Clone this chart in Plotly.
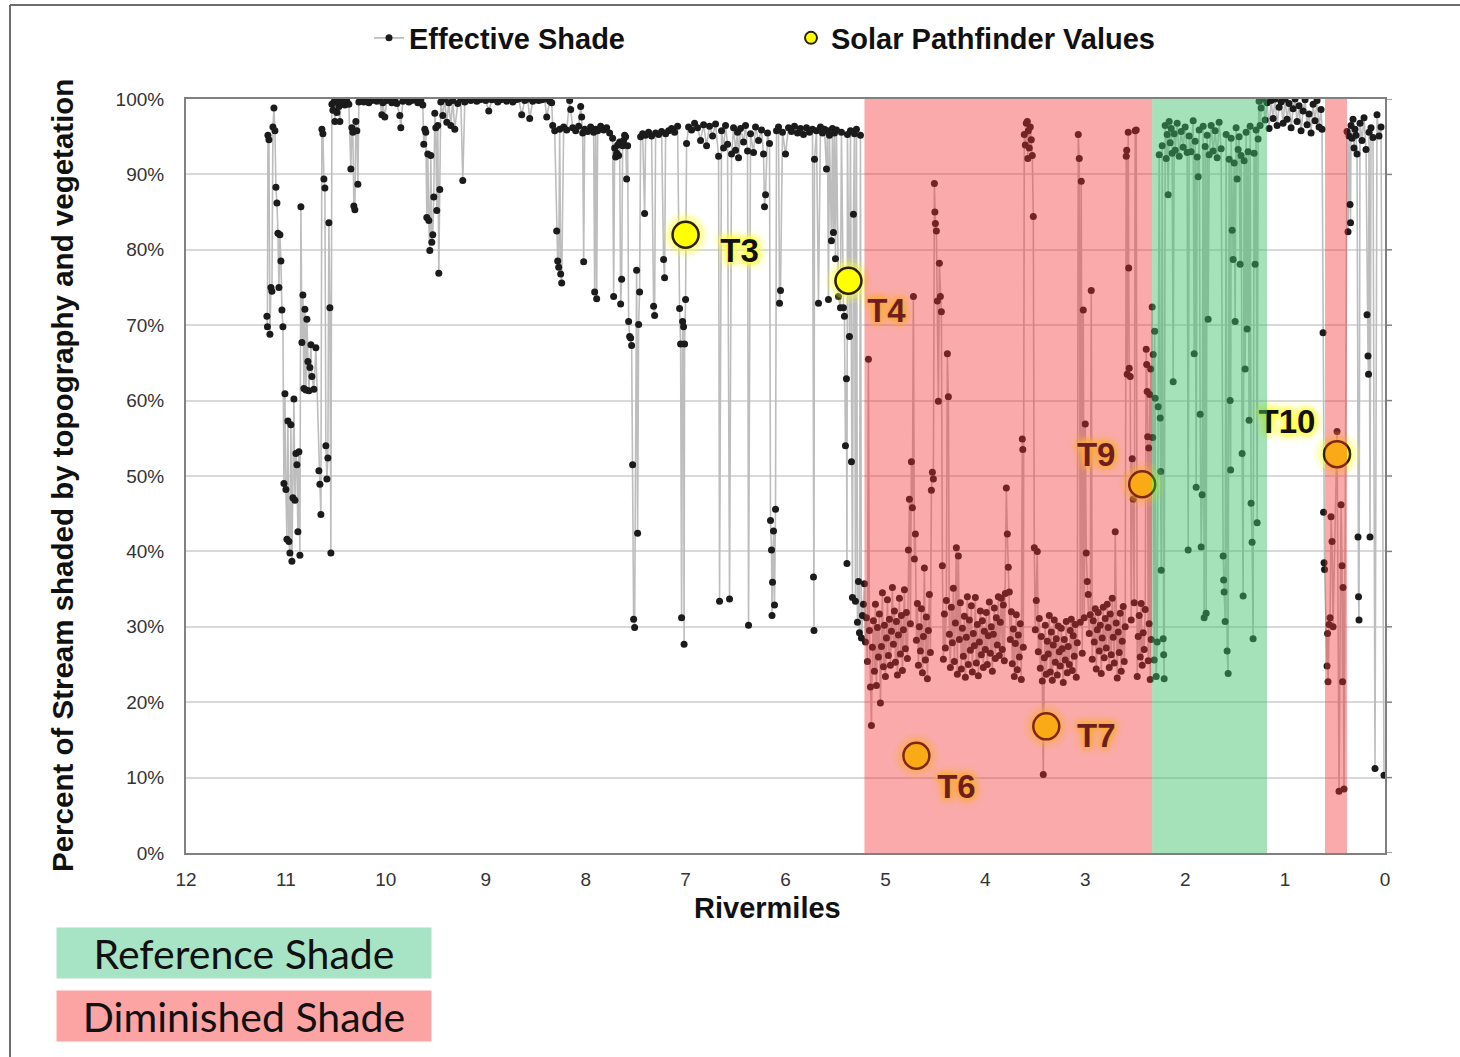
import plotly.graph_objects as go

# ---------------------------------------------------------------------------
# Effective shade along the stream, (rivermile, percent shaded) by reach
# ---------------------------------------------------------------------------
reach_headwater = [
    (11.19, 71.2), (11.185, 69.8), (11.18, 95.2), (11.17, 94.6), (11.16, 68.8), (11.15, 75.0),
    (11.14, 74.5), (11.13, 96.3), (11.12, 98.8), (11.11, 95.8), (11.10, 88.3), (11.09, 86.2),
    (11.08, 82.2), (11.07, 75.0), (11.06, 82.0), (11.05, 78.5), (11.04, 72.0), (11.03, 69.8),
    (11.02, 49.0), (11.01, 60.9), (11.00, 48.2), (10.99, 41.6), (10.98, 57.3), (10.97, 41.3),
    (10.96, 39.8), (10.95, 56.8), (10.94, 38.7), (10.93, 47.1), (10.92, 60.2), (10.91, 46.8),
    (10.90, 53.0), (10.89, 51.5), (10.88, 42.6), (10.87, 53.2), (10.86, 39.5), (10.85, 85.7),
    (10.84, 67.7), (10.83, 74.0), (10.82, 61.6), (10.81, 72.1), (10.80, 61.4), (10.79, 70.8),
    (10.78, 65.2), (10.77, 61.3), (10.76, 64.4), (10.75, 67.4), (10.74, 63.2), (10.72, 61.5),
    (10.70, 67.0), (10.67, 50.7), (10.66, 48.9), (10.65, 44.9), (10.64, 96.0), (10.63, 95.4),
    (10.62, 89.4), (10.61, 88.2), (10.60, 54.0), (10.59, 49.6), (10.58, 52.4), (10.57, 83.6),
    (10.56, 72.3), (10.55, 39.8), (10.54, 99.3), (10.53, 98.5), (10.52, 99.6), (10.51, 97.0),
    (10.50, 99.8), (10.49, 98.2), (10.48, 100.0), (10.47, 99.0), (10.46, 97.0), (10.45, 99.6),
    (10.43, 100.0), (10.41, 99.2), (10.39, 99.7), (10.37, 99.3),
]

reach_upper = [
    (10.35, 90.7), (10.34, 96.2), (10.33, 95.6), (10.32, 85.8), (10.31, 85.3), (10.30, 97.0),
    (10.29, 95.8), (10.28, 88.7), (10.27, 99.6), (10.25, 100.0), (10.22, 99.6), (10.20, 100.0),
    (10.17, 99.5), (10.14, 99.8), (10.12, 100.0), (10.09, 99.7), (10.06, 99.9), (10.04, 97.9),
    (10.03, 99.5), (10.01, 97.6), (9.99, 99.8), (9.97, 100.0), (9.94, 99.5), (9.91, 99.9),
    (9.89, 99.4), (9.86, 97.8), (9.85, 96.2), (9.83, 99.7), (9.80, 100.0), (9.77, 99.6),
    (9.74, 99.8), (9.71, 99.9), (9.68, 99.5), (9.65, 99.8), (9.63, 99.2), (9.62, 94.0),
    (9.61, 96.0), (9.60, 95.6), (9.59, 84.3), (9.58, 92.7), (9.57, 83.9), (9.56, 79.9),
    (9.55, 92.5), (9.54, 81.0), (9.53, 82.0), (9.52, 87.0), (9.51, 98.1), (9.50, 96.2),
    (9.49, 85.2), (9.48, 96.5), (9.47, 76.9), (9.46, 88.0), (9.45, 99.6), (9.43, 97.8),
    (9.41, 100.0), (9.39, 96.9), (9.37, 99.5), (9.35, 96.5), (9.33, 99.8), (9.31, 96.0),
    (9.28, 99.4), (9.25, 100.0), (9.23, 89.2), (9.21, 99.6), (9.18, 100.0), (9.15, 99.8),
    (9.12, 100.0), (9.09, 99.7), (9.06, 99.9), (9.03, 100.0), (9.00, 99.8), (8.97, 98.4),
    (8.94, 99.9), (8.91, 100.0), (8.88, 99.6), (8.85, 99.9), (8.82, 100.0), (8.79, 99.7),
    (8.76, 100.0), (8.73, 99.6), (8.70, 99.9), (8.67, 100.0), (8.64, 97.9), (8.61, 99.8),
    (8.58, 100.0), (8.56, 97.4), (8.53, 99.7), (8.50, 100.0), (8.47, 99.8), (8.44, 99.9),
    (8.41, 100.0), (8.39, 97.6), (8.36, 99.7), (8.34, 99.5),
]

reach_middle = [
    (8.33, 96.5), (8.31, 95.8), (8.29, 82.5), (8.28, 78.5), (8.27, 77.7), (8.26, 96.0),
    (8.25, 76.8), (8.24, 75.6), (8.22, 96.3), (8.19, 95.9), (8.16, 99.8), (8.15, 98.6),
    (8.13, 96.2), (8.10, 95.8), (8.07, 96.4), (8.05, 99.0), (8.04, 97.6), (8.03, 95.5),
    (8.02, 78.4), (8.01, 96.0), (7.98, 95.7), (7.95, 96.3), (7.92, 95.6), (7.91, 74.4),
    (7.90, 96.0), (7.89, 73.5), (7.88, 95.8), (7.85, 96.4), (7.82, 95.9), (7.79, 96.2),
    (7.76, 95.5), (7.73, 94.8), (7.72, 73.8), (7.71, 93.5), (7.70, 92.3), (7.69, 92.8),
    (7.68, 93.9), (7.67, 92.5), (7.66, 94.3), (7.65, 72.8), (7.64, 76.1), (7.63, 93.8),
    (7.62, 94.5), (7.61, 95.2), (7.60, 95.0), (7.59, 89.4), (7.58, 93.8), (7.57, 70.5),
    (7.56, 68.5), (7.55, 68.3), (7.54, 67.3), (7.53, 51.5), (7.52, 31.0), (7.51, 29.9),
    (7.49, 77.3), (7.48, 42.4), (7.47, 70.1), (7.46, 74.4), (7.45, 95.0), (7.43, 95.4),
    (7.41, 84.8), (7.40, 95.2), (7.37, 95.6), (7.34, 95.1), (7.32, 72.5), (7.31, 71.3),
    (7.30, 95.5), (7.27, 95.3), (7.24, 95.7), (7.22, 78.7), (7.21, 76.3), (7.20, 95.4),
    (7.17, 95.8), (7.14, 96.1), (7.11, 95.6), (7.08, 96.4), (7.06, 72.2), (7.05, 67.5),
    (7.04, 31.2), (7.03, 70.5), (7.02, 69.8), (7.015, 27.7), (7.01, 67.5), (7.00, 73.4),
    (6.99, 94.1), (6.97, 96.3), (6.94, 95.9), (6.91, 96.8), (6.88, 96.2), (6.85, 94.5),
    (6.82, 96.6), (6.79, 93.8), (6.76, 96.4), (6.73, 95.1), (6.70, 96.7), (6.67, 92.4),
    (6.66, 33.4), (6.64, 95.8), (6.62, 93.5), (6.60, 96.5), (6.58, 94.0), (6.56, 33.7),
    (6.54, 92.7), (6.52, 96.2), (6.50, 93.2), (6.48, 95.6), (6.47, 92.2), (6.45, 96.1),
    (6.42, 94.3), (6.40, 96.5), (6.38, 93.1), (6.37, 30.2), (6.35, 95.4), (6.32, 92.9),
    (6.30, 96.3), (6.27, 94.5), (6.24, 95.9), (6.22, 92.7), (6.21, 85.7), (6.20, 87.3),
    (6.18, 95.5), (6.16, 94.1), (6.15, 44.1), (6.14, 40.2), (6.135, 31.5), (6.13, 35.9),
    (6.12, 42.7), (6.11, 32.9), (6.10, 45.6), (6.09, 95.8), (6.07, 96.3), (6.06, 72.9),
    (6.05, 74.6), (6.03, 95.6), (6.00, 92.7), (5.97, 96.2), (5.94, 95.7), (5.91, 96.4),
    (5.88, 95.5), (5.85, 96.1), (5.82, 95.3), (5.79, 96.2), (5.76, 95.6), (5.73, 96.0),
    (5.72, 36.6), (5.715, 29.5), (5.71, 92.0), (5.69, 95.8), (5.67, 72.9), (5.65, 96.3),
    (5.63, 95.5), (5.61, 96.0), (5.59, 90.7), (5.58, 95.8), (5.57, 73.4), (5.56, 95.2),
    (5.54, 81.2), (5.53, 96.1), (5.52, 82.3), (5.51, 95.5), (5.50, 78.8), (5.49, 95.9),
    (5.47, 73.8), (5.45, 72.3), (5.44, 95.6), (5.42, 72.3), (5.41, 71.2), (5.40, 54.0),
    (5.39, 62.9), (5.385, 38.4), (5.38, 95.3), (5.36, 68.5), (5.35, 95.8), (5.34, 51.9),
    (5.33, 33.9), (5.32, 84.7), (5.31, 95.4), (5.30, 33.4), (5.29, 96.0), (5.28, 30.6),
    (5.27, 36.0), (5.26, 29.2), (5.25, 95.2), (5.24, 28.5), (5.23, 31.5), (5.22, 33.0),
]

reach_lower = [
    (5.21, 35.7), (5.20, 28.0), (5.19, 31.2), (5.18, 25.4), (5.17, 65.5), (5.16, 29.5),
    (5.15, 22.0), (5.14, 16.9), (5.13, 27.3), (5.12, 30.8), (5.11, 24.1), (5.10, 33.0),
    (5.09, 22.2), (5.08, 29.9), (5.07, 26.0), (5.06, 31.7), (5.05, 19.9), (5.04, 27.4),
    (5.03, 34.5), (5.02, 24.7), (5.01, 30.2), (5.00, 23.4), (4.99, 28.5), (4.98, 33.6),
    (4.97, 26.2), (4.96, 31.0), (4.95, 24.9), (4.94, 29.4), (4.93, 35.2), (4.92, 27.7),
    (4.91, 32.1), (4.90, 25.3), (4.89, 30.7), (4.88, 23.6), (4.87, 28.9), (4.86, 33.8),
    (4.85, 26.4), (4.84, 31.5), (4.83, 24.2), (4.82, 29.6), (4.81, 34.9), (4.80, 27.1),
    (4.79, 31.9), (4.78, 25.8), (4.77, 40.2), (4.76, 46.9), (4.75, 30.4), (4.74, 51.9),
    (4.73, 45.8), (4.72, 73.8), (4.71, 39.0), (4.70, 42.3), (4.69, 28.2), (4.68, 33.1),
    (4.67, 24.9), (4.66, 30.0), (4.65, 26.8), (4.64, 32.4), (4.63, 23.9), (4.62, 28.7),
    (4.61, 37.8), (4.60, 25.6), (4.59, 31.3), (4.58, 23.1), (4.57, 29.5), (4.56, 34.3),
    (4.55, 26.6), (4.54, 48.1), (4.53, 50.5), (4.52, 49.6), (4.51, 88.8), (4.505, 85.0),
    (4.50, 83.5), (4.49, 82.5), (4.48, 73.2), (4.47, 59.9), (4.46, 78.2), (4.45, 73.8),
    (4.44, 71.8), (4.43, 38.1), (4.42, 25.7), (4.41, 31.7), (4.40, 27.2), (4.39, 33.5),
    (4.38, 66.2), (4.37, 60.5), (4.36, 29.0), (4.35, 24.6), (4.34, 32.6), (4.33, 27.9),
    (4.32, 35.1), (4.31, 25.4), (4.30, 30.5), (4.29, 40.5), (4.28, 23.7), (4.27, 39.4),
    (4.26, 28.3), (4.25, 33.2), (4.24, 24.4), (4.23, 29.8), (4.22, 26.1), (4.21, 31.4),
    (4.20, 23.3), (4.19, 28.6), (4.18, 34.0), (4.17, 25.0), (4.16, 30.9), (4.15, 26.9),
    (4.14, 32.8), (4.13, 24.0), (4.12, 29.1), (4.11, 27.5), (4.10, 33.9), (4.09, 25.2),
    (4.08, 30.3), (4.07, 23.5), (4.06, 28.0), (4.05, 32.1), (4.04, 26.3), (4.03, 30.8),
    (4.02, 24.6), (4.01, 29.4), (4.00, 27.0), (3.99, 31.9), (3.98, 25.0), (3.97, 28.8),
    (3.96, 33.3), (3.95, 26.5), (3.94, 30.0), (3.93, 24.1), (3.92, 29.0), (3.91, 32.5),
    (3.90, 25.8), (3.89, 31.2), (3.88, 27.6), (3.87, 34.0), (3.86, 26.2), (3.85, 30.6),
    (3.84, 33.8), (3.83, 27.0), (3.82, 32.9), (3.81, 25.5), (3.80, 34.4), (3.79, 48.4),
    (3.78, 42.3), (3.77, 37.9), (3.76, 34.6), (3.75, 28.3), (3.74, 32.0), (3.73, 25.1),
    (3.72, 29.7), (3.71, 23.4), (3.70, 27.8), (3.69, 31.6), (3.68, 24.3), (3.67, 28.9),
    (3.66, 26.0), (3.65, 30.4), (3.64, 23.0), (3.63, 54.9), (3.625, 53.5), (3.62, 27.3),
    (3.61, 95.3), (3.60, 93.9), (3.59, 96.8), (3.58, 97.0), (3.575, 92.1), (3.57, 95.8),
    (3.56, 93.5), (3.55, 96.3), (3.54, 94.6), (3.53, 92.5), (3.52, 84.4), (3.51, 40.5),
    (3.50, 29.6), (3.49, 33.5), (3.48, 40.0), (3.47, 26.7), (3.46, 31.1), (3.45, 24.5),
    (3.44, 28.7), (3.43, 22.8), (3.42, 10.4), (3.41, 25.9), (3.40, 30.2), (3.39, 23.7),
    (3.38, 28.1), (3.37, 26.4), (3.36, 31.5), (3.35, 24.0), (3.34, 29.3), (3.33, 22.9),
    (3.32, 27.6), (3.31, 30.9), (3.30, 25.3), (3.29, 28.4), (3.28, 23.6), (3.27, 30.1),
    (3.26, 26.7), (3.25, 24.8), (3.24, 29.8), (3.23, 27.1), (3.22, 22.6), (3.21, 28.3),
    (3.20, 25.6), (3.19, 30.7), (3.18, 23.9), (3.17, 27.4), (3.16, 25.0), (3.15, 29.5),
    (3.14, 31.0), (3.13, 24.2), (3.12, 28.8), (3.11, 26.1), (3.10, 30.3), (3.09, 23.3),
    (3.08, 27.9), (3.07, 95.3), (3.06, 92.1), (3.05, 30.6), (3.04, 89.1), (3.03, 26.5),
    (3.02, 72.0), (3.01, 31.2), (3.00, 56.9), (2.99, 39.8), (2.98, 36.0), (2.97, 34.3),
    (2.96, 29.1), (2.95, 31.6), (2.94, 74.6), (2.93, 25.7), (2.92, 30.8), (2.91, 28.0),
    (2.90, 32.4), (2.89, 24.4), (2.88, 29.6), (2.87, 31.9), (2.86, 26.8), (2.85, 30.2),
    (2.84, 23.8), (2.83, 28.5), (2.82, 32.6), (2.81, 25.9), (2.80, 31.1), (2.79, 27.2),
    (2.78, 33.0), (2.77, 29.9), (2.76, 24.6), (2.75, 31.7), (2.74, 26.3), (2.73, 33.8),
    (2.72, 28.6), (2.71, 25.2), (2.70, 42.6), (2.69, 30.5), (2.68, 23.2), (2.67, 29.3),
    (2.66, 26.6), (2.65, 31.8), (2.64, 24.1), (2.63, 28.1), (2.62, 32.7), (2.61, 25.4),
    (2.60, 30.0), (2.59, 92.4), (2.585, 93.2), (2.58, 63.5), (2.57, 95.6), (2.565, 77.6),
    (2.56, 64.3), (2.55, 63.2), (2.54, 30.9), (2.53, 52.3), (2.52, 46.9), (2.51, 33.2),
    (2.50, 95.8), (2.49, 95.9), (2.48, 23.4), (2.47, 28.7), (2.46, 31.5), (2.45, 26.0),
    (2.44, 33.1), (2.43, 24.9), (2.42, 29.2), (2.41, 27.0), (2.40, 32.3), (2.39, 66.8),
    (2.385, 64.8), (2.38, 61.2), (2.375, 55.2), (2.37, 25.5), (2.365, 53.7), (2.36, 30.4),
    (2.355, 60.8), (2.35, 23.0), (2.345, 64.2), (2.34, 28.3),
]

reach_reference = [
    (2.33, 72.4), (2.325, 55.1), (2.32, 66.1), (2.31, 25.6), (2.305, 69.2), (2.30, 60.3),
    (2.29, 23.4), (2.28, 28.0), (2.27, 59.2), (2.26, 92.6), (2.25, 57.7), (2.245, 50.6),
    (2.24, 37.5), (2.23, 93.8), (2.22, 28.4), (2.215, 26.3), (2.21, 23.1), (2.20, 96.5),
    (2.19, 92.1), (2.18, 95.3), (2.17, 87.3), (2.16, 97.0), (2.15, 94.2), (2.14, 96.1),
    (2.13, 92.8), (2.12, 62.5), (2.11, 95.4), (2.10, 93.2), (2.08, 96.8), (2.06, 92.4),
    (2.04, 95.7), (2.02, 93.6), (2.00, 96.3), (1.98, 92.9), (1.97, 40.2), (1.96, 95.1),
    (1.94, 93.0), (1.92, 97.1), (1.91, 66.2), (1.90, 94.4), (1.89, 48.5), (1.88, 92.3),
    (1.87, 89.7), (1.86, 95.9), (1.85, 58.2), (1.84, 40.6), (1.83, 47.5), (1.82, 96.4),
    (1.81, 31.2), (1.80, 93.7), (1.79, 31.8), (1.78, 95.2), (1.77, 70.8), (1.76, 92.6),
    (1.74, 96.5), (1.72, 93.1), (1.70, 95.8), (1.68, 92.2), (1.66, 96.9), (1.64, 93.4),
    (1.62, 39.4), (1.615, 36.2), (1.61, 34.6), (1.60, 30.7), (1.59, 95.3), (1.58, 26.8),
    (1.57, 23.8), (1.56, 92.0), (1.55, 60.0), (1.545, 50.8), (1.54, 94.8), (1.53, 82.6),
    (1.52, 78.7), (1.51, 91.5), (1.50, 70.5), (1.49, 96.2), (1.48, 89.4), (1.47, 93.3),
    (1.46, 95.0), (1.45, 78.1), (1.44, 92.5), (1.43, 53.0), (1.42, 34.1), (1.41, 91.8),
    (1.40, 64.2), (1.39, 95.6), (1.38, 69.5), (1.37, 93.0), (1.36, 57.4), (1.35, 96.4),
    (1.34, 46.4), (1.33, 41.2), (1.32, 28.4), (1.31, 92.8), (1.30, 78.1), (1.29, 95.9),
    (1.28, 43.8), (1.27, 94.7), (1.26, 99.7), (1.25, 96.5), (1.24, 98.8), (1.22, 100.0),
    (1.20, 97.2), (1.18, 99.5),
]

reach_mouth = [
    (1.16, 96.1), (1.14, 99.8), (1.12, 97.4), (1.10, 100.0), (1.08, 96.5), (1.06, 98.9),
    (1.04, 99.6), (1.02, 96.8), (1.00, 100.0), (0.98, 97.3), (0.96, 99.4), (0.94, 96.2),
    (0.92, 98.7), (0.90, 100.0), (0.88, 97.0), (0.86, 99.1), (0.84, 95.8), (0.82, 98.4),
    (0.80, 99.9), (0.78, 96.6), (0.76, 98.0), (0.74, 95.5), (0.72, 99.3), (0.70, 97.1),
    (0.68, 99.8), (0.66, 96.3), (0.64, 98.6), (0.63, 96.0), (0.62, 69.0), (0.615, 45.2),
    (0.61, 38.5), (0.605, 37.6), (0.58, 24.8), (0.575, 29.1), (0.57, 22.7), (0.56, 30.3),
    (0.55, 31.2), (0.54, 44.6), (0.53, 41.3), (0.52, 30.0), (0.48, 55.9), (0.46, 8.2),
    (0.44, 46.2), (0.43, 38.1), (0.425, 22.7), (0.42, 35.2), (0.41, 8.5), (0.38, 95.7),
    (0.37, 82.4), (0.36, 95.1), (0.35, 86.0), (0.345, 83.6), (0.34, 96.5), (0.33, 94.8),
    (0.32, 97.3), (0.31, 93.5), (0.30, 96.0), (0.29, 95.2), (0.28, 92.7), (0.27, 41.9),
    (0.265, 34.0), (0.26, 30.9), (0.25, 96.8), (0.23, 94.5), (0.21, 97.5), (0.19, 93.3),
    (0.18, 71.4), (0.17, 65.9), (0.165, 63.5), (0.16, 95.6), (0.15, 41.9), (0.14, 96.2),
    (0.12, 94.9), (0.10, 11.2), (0.08, 97.9), (0.06, 95.1), (0.04, 96.3), (0.01, 10.3),
]

shade_points = (reach_headwater + reach_upper + reach_middle
                + reach_lower + reach_reference + reach_mouth)
rivermile = [p[0] for p in shade_points]
effective_shade = [p[1] for p in shade_points]

# Solar Pathfinder measurements
sites = ["T3", "T4", "T6", "T7", "T9", "T10"]
site_mile = [7.00, 5.37, 4.69, 3.39, 2.43, 0.48]
site_shade = [82.0, 75.9, 12.9, 16.8, 48.9, 52.9]

# Reaches classified by shade condition (upstream mile, downstream mile)
reference_reaches = [(2.33, 1.18)]
diminished_reaches = [(5.21, 2.33), (0.60, 0.38)]

# axis ticks
mile_ticks = list(range(0, 13))
pct_ticks = list(range(0, 101, 10))
pct_labels = [f"{v}%" for v in pct_ticks]

# ---------------------------------------------------------------------------
# Layout geometry (pixels) and styling
# ---------------------------------------------------------------------------
W, H = 1460, 1057
ML, MR, MT, MB = 186, 75, 99, 204
PW, PH = W - ML - MR, H - MT - MB
PX_PER_MILE = PW / 12.0
PX_PER_PCT = PH / 100.0

# label offsets from each measurement marker, in pixels (right / down)
label_dx_px = [54, 38, 40, 50, -46, -50]
label_dy_px = [19, 33, 34, 12, -27, -29]
label_x = [m - dx / PX_PER_MILE for m, dx in zip(site_mile, label_dx_px)]
label_y = [v - dy / PX_PER_PCT for v, dy in zip(site_shade, label_dy_px)]


def px_x(p):
    return (p - ML) / PW


def px_y(p):
    return (H - MB - p) / PH


FONT = "Liberation Sans, Arial, sans-serif"
GLOW = ("0 0 4px #ffff40, 0 0 6px #ffff40, 0 0 8px #ffff40, "
        "0 0 10px #ffff50, 0 0 12px #ffff60")

fig = go.Figure()

fig.add_trace(go.Scatter(
    x=rivermile, y=effective_shade, mode="lines+markers", name="Effective Shade",
    line=dict(color="#bdbdbd", width=1.6),
    marker=dict(color="#1b1b1b", size=7),
    legend="legend", hoverinfo="skip",
))

# soft halo around the pathfinder markers
for size, alpha in [(46, 0.16), (38, 0.26), (32, 0.34)]:
    fig.add_trace(go.Scatter(
        x=site_mile, y=site_shade, mode="markers", showlegend=False, hoverinfo="skip",
        marker=dict(size=size, color=f"rgba(255,255,60,{alpha})", line=dict(width=0)),
    ))

fig.add_trace(go.Scatter(
    x=site_mile, y=site_shade, mode="markers", name="Solar Pathfinder Values",
    marker=dict(size=26, color="#ffff00", line=dict(color="#2a2200", width=2.5)),
    legend="legend2", hoverinfo="skip",
))

fig.add_trace(go.Scatter(
    x=label_x, y=label_y, mode="text", text=sites, showlegend=False, hoverinfo="skip",
    textposition="middle center",
    textfont=dict(family=FONT, size=33, color="#111111", weight="bold", shadow=GLOW),
))

shapes = []
for a, b in diminished_reaches:
    shapes.append(dict(type="rect", xref="x", yref="paper", x0=a, x1=b, y0=0, y1=1,
                       fillcolor="rgba(244,49,49,0.41)", line=dict(width=0), layer="above"))
for a, b in reference_reaches:
    shapes.append(dict(type="rect", xref="x", yref="paper", x0=a, x1=b, y0=0, y1=1,
                       fillcolor="rgba(64,191,106,0.47)", line=dict(width=0), layer="above"))

# tick marks on the right-hand frame
for v in pct_ticks:
    shapes.append(dict(type="line", xref="paper", yref="y", x0=1, x1=1 + 7 / PW, y0=v, y1=v,
                       line=dict(color="#808080", width=1.5)))

# outer frame of the figure
shapes.append(dict(type="line", xref="paper", yref="paper",
                   x0=px_x(10), x1=px_x(10), y0=px_y(5), y1=px_y(H),
                   line=dict(color="#6e6e6e", width=2)))
shapes.append(dict(type="line", xref="paper", yref="paper",
                   x0=px_x(10), x1=px_x(W), y0=px_y(5), y1=px_y(5),
                   line=dict(color="#6e6e6e", width=2)))

annotations = [
    dict(text="Percent of Stream shaded by topography and vegetation", textangle=-90,
         xref="paper", yref="paper", x=px_x(62), y=px_y(476), showarrow=False,
         xanchor="center", yanchor="middle",
         font=dict(family=FONT, size=29.5, color="#111111", weight="bold")),
    dict(text="Rivermiles", xref="paper", yref="paper", x=px_x(767), y=px_y(908),
         showarrow=False, xanchor="center", yanchor="middle",
         font=dict(family=FONT, size=29, color="#111111", weight="bold")),
    dict(text="Reference Shade", xref="paper", yref="paper", x=px_x(244), y=px_y(953),
         showarrow=False, xanchor="center", yanchor="middle", width=372, height=48,
         bgcolor="#a6e4c5", borderpad=1,
         font=dict(family="Lato, Noto Sans, sans-serif", size=41, color="#111111")),
    dict(text="Diminished Shade", xref="paper", yref="paper", x=px_x(244), y=px_y(1016),
         showarrow=False, xanchor="center", yanchor="middle", width=372, height=48,
         bgcolor="#fca3a3", borderpad=1,
         font=dict(family="Lato, Noto Sans, sans-serif", size=41, color="#111111")),
]

legend_font = dict(family=FONT, size=29, color="#111111", weight="bold")

fig.update_layout(
    width=W, height=H,
    margin=dict(l=ML, r=MR, t=MT, b=MB),
    paper_bgcolor="white", plot_bgcolor="white",
    font=dict(family=FONT, color="#333333"),
    shapes=shapes, annotations=annotations,
    legend=dict(x=px_x(369), y=px_y(38), xanchor="left", yanchor="middle",
                orientation="h", font=legend_font, bgcolor="rgba(0,0,0,0)"),
    legend2=dict(x=px_x(791), y=px_y(38), xanchor="left", yanchor="middle",
                 orientation="h", font=legend_font, bgcolor="rgba(0,0,0,0)",
                 itemsizing="constant"),
    xaxis=dict(range=[12, 0], tickmode="array", tickvals=mile_ticks,
               ticktext=[str(v) for v in mile_ticks], showgrid=False, zeroline=False,
               showline=True, linecolor="#808080", linewidth=2, mirror=True,
               ticks="outside", ticklen=8, tickcolor="rgba(0,0,0,0)",
               tickfont=dict(family=FONT, size=19, color="#333333")),
    yaxis=dict(range=[0, 100], tickmode="array", tickvals=pct_ticks, ticktext=pct_labels,
               showgrid=True, gridcolor="#d9d9d9", gridwidth=1.5, zeroline=False,
               showline=True, linecolor="#808080", linewidth=2, mirror=True,
               ticks="outside", ticklen=16, tickcolor="rgba(0,0,0,0)",
               tickfont=dict(family=FONT, size=19, color="#333333")),
)

fig.write_html("out.html")
